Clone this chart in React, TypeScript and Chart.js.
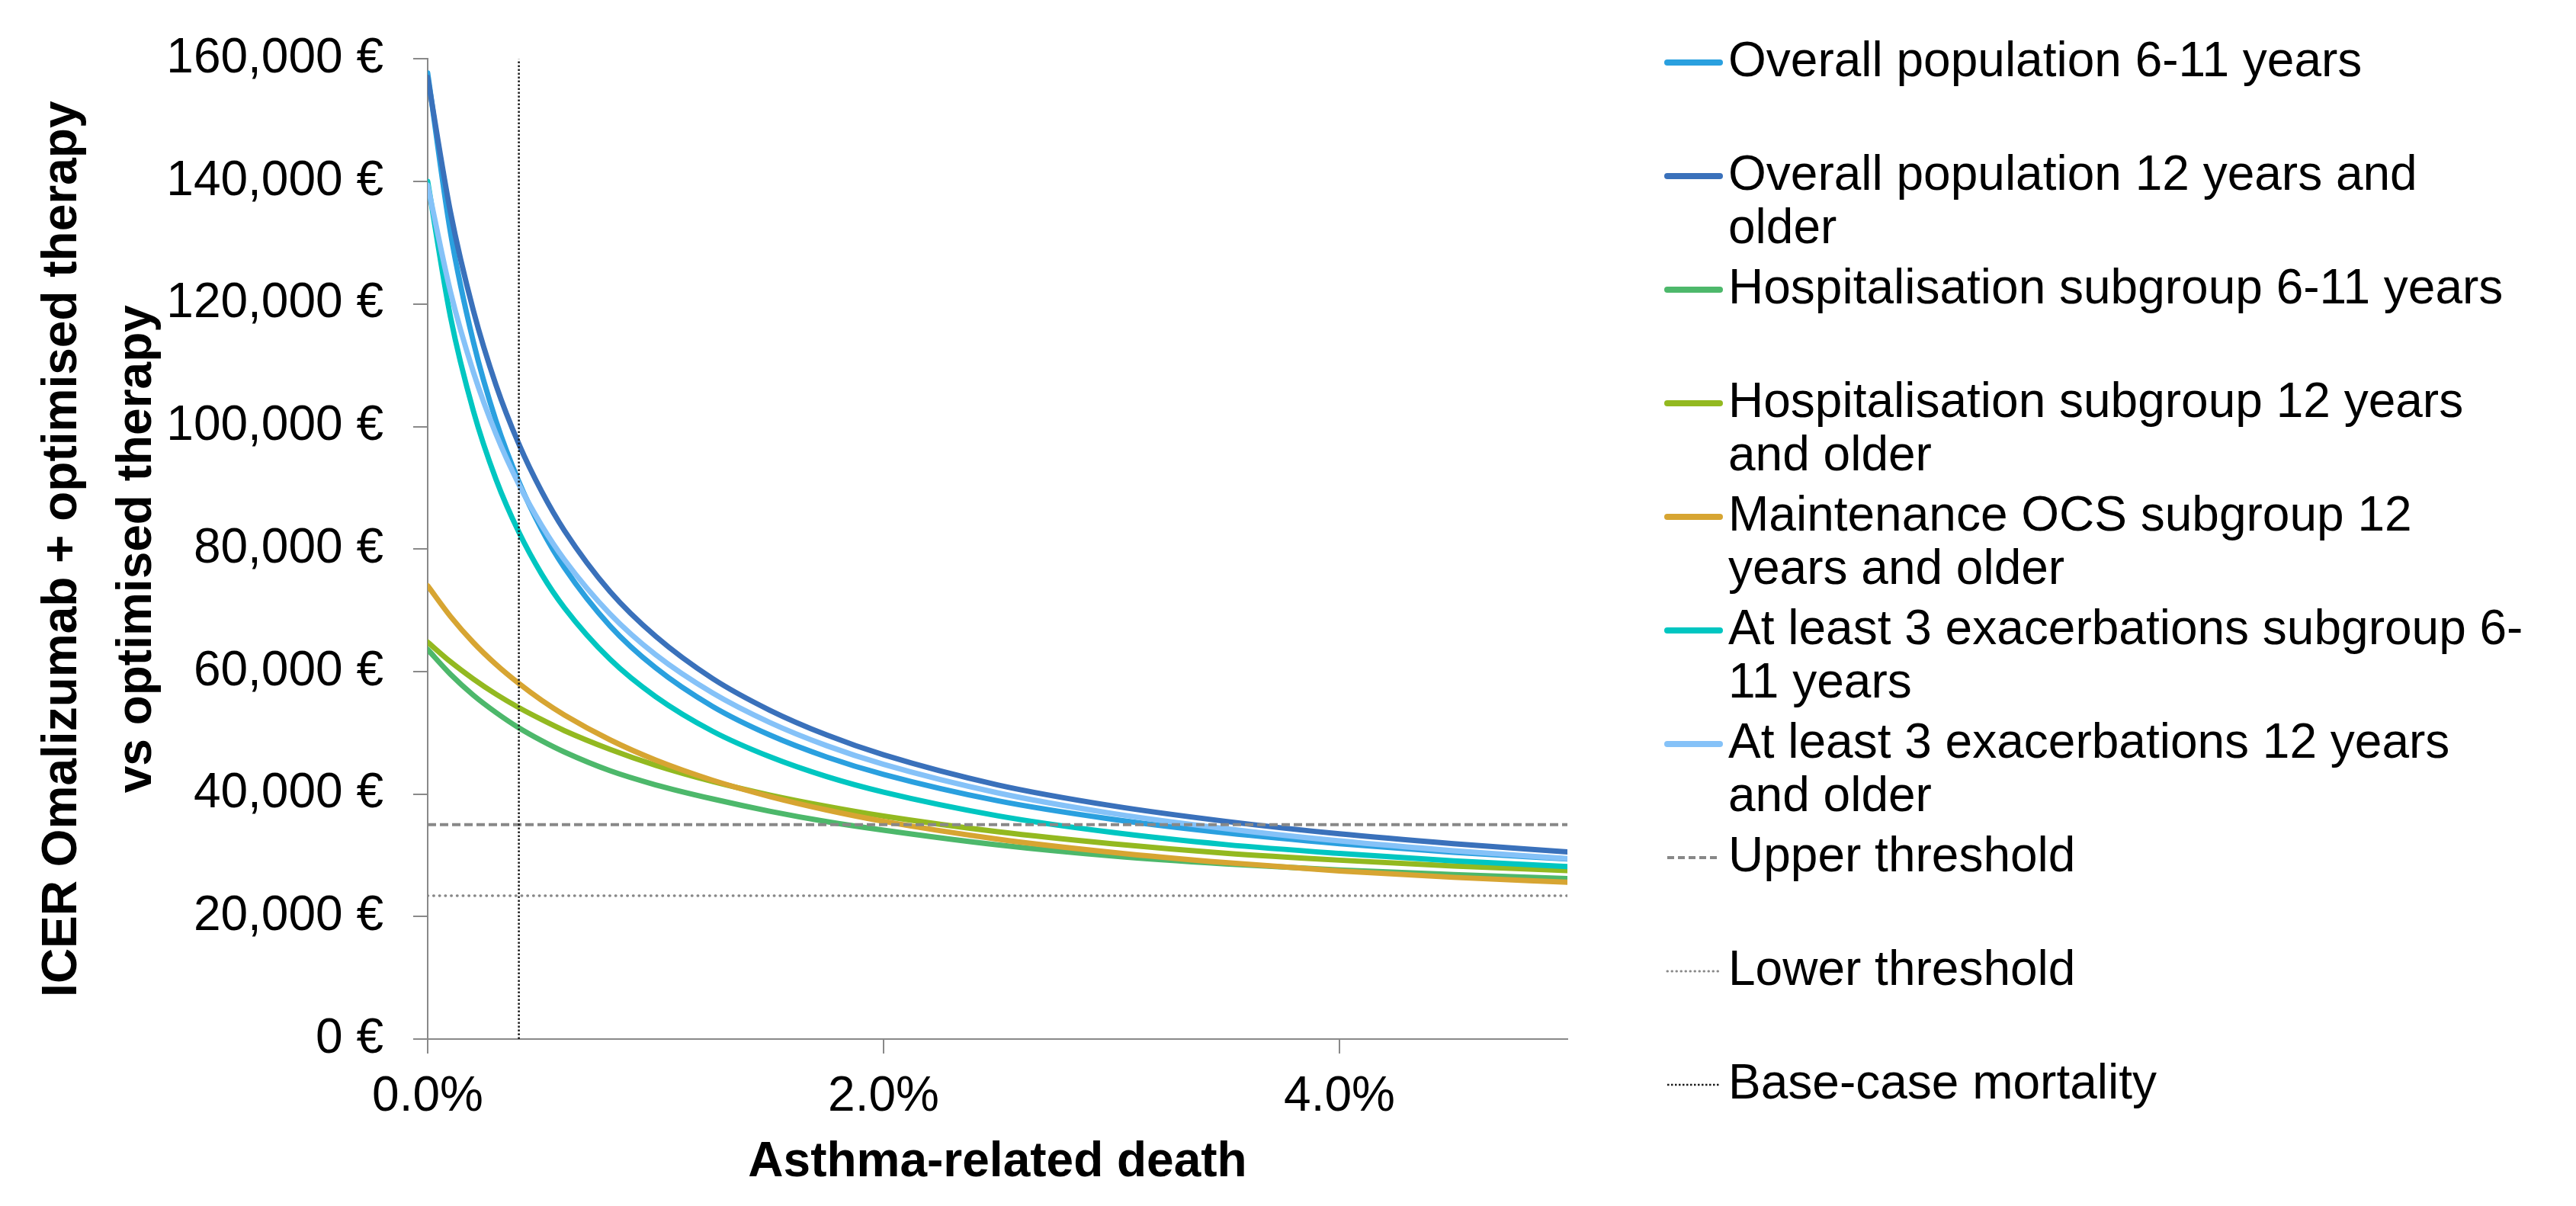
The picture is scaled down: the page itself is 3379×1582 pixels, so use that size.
import React, { useEffect, useRef } from 'react';
import { Chart, registerables } from 'chart.js';

Chart.register(...registerables);

// ---- data ----
const deathRatePct = [0, 0.1, 0.2, 0.3, 0.4, 0.5, 0.6, 0.8, 1.0, 1.25, 1.5, 1.75, 2.0, 2.5, 3.0, 3.5, 4.0, 4.5, 5.0];

const overall611 = [157700, 131700, 113900, 100900, 91000, 83200, 76950, 67450, 60600, 54300, 49650, 46050, 43200, 38900, 35900, 33650, 31900, 30500, 29400];
const overall12 = [157000, 135000, 119000, 106750, 97150, 89400, 83000, 73050, 65750, 58850, 53700, 49650, 46400, 41500, 38100, 35550, 33500, 31900, 30550];
const hosp611 = [63600, 59550, 56150, 53300, 50800, 48700, 46850, 43800, 41500, 39200, 37200, 35500, 34100, 31700, 29900, 28600, 27600, 26850, 26200];
const hosp12 = [64800, 61600, 58800, 56300, 54100, 52150, 50350, 47300, 44700, 42050, 39850, 38000, 36400, 33850, 31900, 30350, 29200, 28250, 27500];
const maintOcs12 = [74000, 69000, 64750, 61150, 58050, 55300, 52900, 48850, 45550, 42250, 39600, 37400, 35550, 32650, 30500, 28800, 27450, 26400, 25600];
const exac611 = [140000, 117900, 102600, 91350, 82750, 75900, 70400, 62000, 55900, 50250, 46100, 42850, 40300, 36450, 33750, 31750, 30300, 29100, 28150];
const exac12 = [139400, 122000, 108950, 98750, 90550, 83850, 78250, 69400, 62750, 56500, 51700, 47900, 44850, 40200, 36850, 34350, 32350, 30750, 29450];

const upperThreshold = 35000;
const lowerThreshold = 23400;
const baseCaseMortality = 0.4;
const thresholdSpan = [0, 5];
const baseCaseSpan = [0, 160000];

const xTickValues = [0, 2, 4];
const yTickValues = [0, 20000, 40000, 60000, 80000, 100000, 120000, 140000, 160000];

const seriesLabels = [
  'Overall population 6-11 years',
  'Overall population 12 years and older',
  'Hospitalisation subgroup 6-11 years',
  'Hospitalisation subgroup 12 years and older',
  'Maintenance OCS subgroup 12 years and older',
  'At least 3 exacerbations subgroup 6-11 years',
  'At least 3 exacerbations 12 years and older',
  'Upper threshold',
  'Lower threshold',
  'Base-case mortality',
];

const legendLines = [
  ['Overall population 6-11 years'],
  ['Overall population 12 years and', 'older'],
  ['Hospitalisation subgroup 6-11 years'],
  ['Hospitalisation subgroup 12 years', 'and older'],
  ['Maintenance OCS subgroup 12', 'years and older'],
  ['At least 3 exacerbations subgroup 6-', '11 years'],
  ['At least 3 exacerbations 12 years', 'and older'],
  ['Upper threshold'],
  ['Lower threshold'],
  ['Base-case mortality'],
];

const xTitle = 'Asthma-related death';
const yTitle = ['ICER Omalizumab + optimised therapy', 'vs optimised therapy'];

// ---- styles ----
const FONT = '"Liberation Sans", Arial, Helvetica, sans-serif';
const AXIS = '#898989';
const colors = ['#2AA0DF', '#3A71BB', '#4DB86B', '#93B920', '#D7A532', '#00C6C1', '#85C2F8'];

const LEGEND = { lineX0: 2187, lineX1: 2256, textX: 2267, top: 82, slot: 149, lineGap: 70 };

const sideLegend = {
  id: 'sideLegend',
  afterDraw(chart: any) {
    const ctx = chart.ctx as CanvasRenderingContext2D;
    ctx.save();
    chart.data.datasets.forEach((ds: any, i: number) => {
      const y = LEGEND.top + i * LEGEND.slot;
      ctx.beginPath();
      ctx.strokeStyle = ds.borderColor;
      ctx.lineWidth = ds.legendWidth ?? ds.borderWidth;
      ctx.lineCap = ds.legendCap ?? 'round';
      ctx.setLineDash(ds.legendDash ?? ds.borderDash ?? []);
      ctx.moveTo(LEGEND.lineX0, y);
      ctx.lineTo(LEGEND.lineX1, y);
      ctx.stroke();
      ctx.setLineDash([]);
      ctx.fillStyle = '#000';
      ctx.font = `64px ${FONT}`;
      ctx.textAlign = 'left';
      ctx.textBaseline = 'middle';
      (legendLines[i] || [ds.label]).forEach((t: string, j: number) => {
        ctx.fillText(t, LEGEND.textX, y + j * LEGEND.lineGap);
      });
    });
    ctx.restore();
  },
};

export default function App() {
  const ref = useRef<HTMLCanvasElement>(null);

  useEffect(() => {
    document.body.style.margin = '0';
    document.body.style.overflow = 'hidden';
    const canvas = ref.current;
    if (!canvas) return;

    const pts = (ys: number[]) => deathRatePct.map((x, i) => ({ x, y: ys[i] }));
    const seriesData = [overall611, overall12, hosp611, hosp12, maintOcs12, exac611, exac12];
    const n = 10;

    const curves = seriesData.map((ys, i) => ({
      label: seriesLabels[i],
      data: pts(ys),
      borderColor: colors[i],
      backgroundColor: colors[i],
      borderWidth: 7,
      legendWidth: 8,
      pointRadius: 0,
      fill: false,
      cubicInterpolationMode: 'monotone',
      borderCapStyle: 'round',
      borderJoinStyle: 'round',
      order: n - i,
    }));

    const datasets: any[] = [
      ...curves,
      {
        label: seriesLabels[7],
        data: thresholdSpan.map((x) => ({ x, y: upperThreshold })),
        borderColor: '#888888',
        borderWidth: 4,
        borderDash: [11, 5],
        legendWidth: 4,
        legendDash: [9, 5],
        legendCap: 'butt',
        pointRadius: 0,
        fill: false,
        order: 3,
      },
      {
        label: seriesLabels[8],
        data: thresholdSpan.map((x) => ({ x, y: lowerThreshold })),
        borderColor: '#888888',
        borderWidth: 3.5,
        borderDash: [0.5, 7.2],
        borderCapStyle: 'round',
        legendWidth: 3,
        legendDash: [0.5, 5.5],
        pointRadius: 0,
        fill: false,
        order: 2,
      },
      {
        label: seriesLabels[9],
        data: baseCaseSpan.map((y) => ({ x: baseCaseMortality, y })),
        borderColor: '#1a1a1a',
        borderWidth: 2.5,
        borderDash: [2.5, 2.5],
        borderCapStyle: 'butt',
        legendWidth: 2.5,
        legendCap: 'butt',
        pointRadius: 0,
        fill: false,
        order: 1,
      },
    ];

    const tickFont = { size: 64, family: FONT };
    const titleFont = { size: 64, family: FONT, weight: 'bold' as const };

    const chart = new Chart(canvas, {
      type: 'line',
      data: { datasets },
      plugins: [sideLegend],
      options: {
        animation: false,
        responsive: false,
        devicePixelRatio: 1,
        layout: { padding: { top: 68, right: 1323, bottom: 0, left: 0 } },
        plugins: { legend: { display: false }, tooltip: { enabled: false } },
        scales: {
          x: {
            type: 'linear',
            min: 0,
            max: 5,
            afterBuildTicks: (s: any) => {
              s.ticks = xTickValues.map((v) => ({ value: v }));
            },
            afterFit: (s: any) => {
              s.height = 219;
            },
            grid: { drawOnChartArea: false, drawTicks: true, tickLength: 19, color: AXIS, lineWidth: 2 },
            border: { display: true, color: AXIS, width: 2 },
            ticks: {
              padding: 19,
              color: '#000',
              font: tickFont,
              maxRotation: 0,
              autoSkip: false,
              callback: (v: any) => Number(v).toFixed(1) + '%',
            },
            title: { display: true, text: xTitle, color: '#000', font: titleFont, padding: { top: 0, bottom: 18 } },
          },
          y: {
            type: 'linear',
            min: 0,
            max: 160000,
            afterBuildTicks: (s: any) => {
              s.ticks = yTickValues.map((v) => ({ value: v }));
            },
            afterFit: (s: any) => {
              s.width = 561;
            },
            grid: { drawOnChartArea: false, drawTicks: true, tickLength: 19, color: AXIS, lineWidth: 2 },
            border: { display: true, color: AXIS, width: 2 },
            ticks: {
              padding: 39,
              color: '#000',
              font: tickFont,
              autoSkip: false,
              callback: (v: any) => Number(v).toLocaleString('en-US') + ' €',
            },
            title: {
              display: true,
              text: yTitle,
              color: '#000',
              font: { ...titleFont, lineHeight: 1.52 },
              padding: { top: 34, bottom: 0 },
            },
          },
        },
      } as any,
    });

    return () => chart.destroy();
  }, []);

  return (
    <canvas
      ref={ref}
      width={3379}
      height={1582}
      style={{ display: 'block', width: '3379px', height: '1582px' }}
    />
  );
}
